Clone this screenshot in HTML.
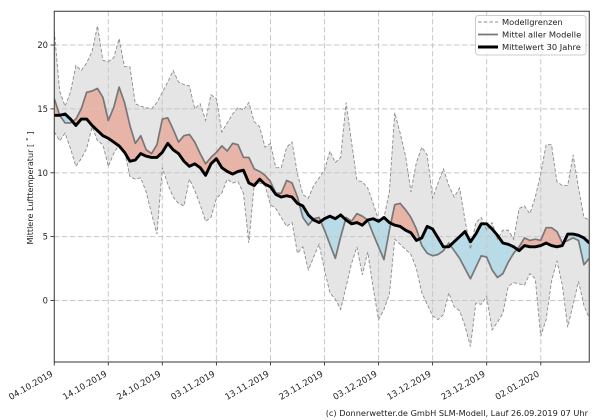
<!DOCTYPE html>
<html><head><meta charset="utf-8"><style>
html,body{margin:0;padding:0;background:#fff;}
svg{display:block;}
text{font-family:"DejaVu Sans","Liberation Sans",sans-serif;fill:#222;}
</style></head><body>
<svg width="600" height="420" viewBox="0 0 600 420" xmlns="http://www.w3.org/2000/svg">
<defs>
<clipPath id="plot"><rect x="54" y="11" width="535.5" height="351"/></clipPath>
<clipPath id="aboveL" clipPathUnits="userSpaceOnUse"><polygon points="0,13.2 1,12.5 2,13.1 3,11.9 4,10.5 5,11.1 6,11.9 7,13.6 8,12.5 9,12.2 10,10.5 11,11.5 12,12.2 13,11.7 14,9.7 15,9.5 16,9.6 17,8.5 18,6.8 19,5.2 20,10.4 21,9.1 22,8.1 23,7.6 24,7.4 25,9.5 26,8.6 27,7.5 28,6.2 29,6.5 30,8.0 31,8.4 32,9.5 33,9.2 34,9.3 35,8.4 36,4.5 37,9.1 38,9.2 39,9.0 40,7.5 41,7.2 42,6.5 43,5.8 44,6.1 45,3.7 46,4.2 47,2.4 48,3.4 49,4.4 50,2.4 51,0.6 52,0.1 53,-0.7 54,1.1 55,2.9 56,4.2 57,2.0 58,3.8 59,1.0 60,-1.5 61,-0.7 62,0.5 63,4.8 64,4.4 65,4.0 66,3.6 67,2.5 68,0.6 69,-0.3 70,-1.2 71,-1.5 72,-1.1 73,0.6 74,-0.5 75,-0.8 76,-2.0 77,-3.6 78,-0.2 79,-0.3 80,0.3 81,-2.3 82,-1.7 83,-1.0 84,1.1 85,1.4 86,1.3 87,1.2 88,2.1 89,1.7 90,-2.8 91,-1.5 92,1.5 93,3.1 94,1.2 95,-2.1 96,-0.3 97,1.5 98,-0.4 99,-1.4 99,30 0,30"/></clipPath>
<clipPath id="aboveC" clipPathUnits="userSpaceOnUse"><polygon points="0,14.5 1,14.5 2,14.6 3,14.2 4,13.7 5,14.2 6,14.2 7,13.7 8,13.3 9,12.9 10,12.7 11,12.4 12,12.1 13,11.6 14,10.9 15,11.0 16,11.5 17,11.3 18,11.2 19,11.2 20,11.6 21,12.3 22,11.8 23,11.5 24,10.9 25,10.5 26,10.7 27,10.4 28,9.8 29,10.7 30,11.1 31,10.4 32,10.1 33,9.9 34,10.1 35,10.2 36,9.2 37,9.0 38,9.5 39,9.1 40,8.9 41,8.3 42,8.1 43,8.2 44,8.1 45,7.6 46,7.4 47,6.7 48,6.3 49,6.1 50,6.4 51,6.6 52,6.4 53,6.7 54,6.3 55,6.0 56,6.1 57,5.9 58,6.3 59,6.4 60,6.2 61,6.5 62,6.1 63,5.9 64,5.8 65,5.5 66,5.3 67,4.7 68,4.9 69,5.8 70,5.6 71,4.9 72,4.2 73,4.2 74,4.6 75,5.0 76,5.4 77,4.6 78,5.2 79,6.0 80,6.0 81,5.6 82,5.1 83,4.5 84,4.4 85,4.2 86,3.9 87,4.3 88,4.2 89,4.2 90,4.3 91,4.5 92,4.3 93,4.2 94,4.3 95,5.2 96,5.2 97,5.1 98,4.9 99,4.5 99,30 0,30"/></clipPath>
<clipPath id="belowC" clipPathUnits="userSpaceOnUse"><polygon points="0,14.5 1,14.5 2,14.6 3,14.2 4,13.7 5,14.2 6,14.2 7,13.7 8,13.3 9,12.9 10,12.7 11,12.4 12,12.1 13,11.6 14,10.9 15,11.0 16,11.5 17,11.3 18,11.2 19,11.2 20,11.6 21,12.3 22,11.8 23,11.5 24,10.9 25,10.5 26,10.7 27,10.4 28,9.8 29,10.7 30,11.1 31,10.4 32,10.1 33,9.9 34,10.1 35,10.2 36,9.2 37,9.0 38,9.5 39,9.1 40,8.9 41,8.3 42,8.1 43,8.2 44,8.1 45,7.6 46,7.4 47,6.7 48,6.3 49,6.1 50,6.4 51,6.6 52,6.4 53,6.7 54,6.3 55,6.0 56,6.1 57,5.9 58,6.3 59,6.4 60,6.2 61,6.5 62,6.1 63,5.9 64,5.8 65,5.5 66,5.3 67,4.7 68,4.9 69,5.8 70,5.6 71,4.9 72,4.2 73,4.2 74,4.6 75,5.0 76,5.4 77,4.6 78,5.2 79,6.0 80,6.0 81,5.6 82,5.1 83,4.5 84,4.4 85,4.2 86,3.9 87,4.3 88,4.2 89,4.2 90,4.3 91,4.5 92,4.3 93,4.2 94,4.3 95,5.2 96,5.2 97,5.1 98,4.9 99,4.5 99,-10 0,-10"/></clipPath>
</defs>

<rect x="0" y="0" width="600" height="420" fill="#fff"/>

<g clip-path="url(#plot)">
<g transform="translate(54.25,300.5) scale(5.405,-12.775)">
  <polygon clip-path="url(#aboveL)" fill="#e5e5e5" points="0,21.1 1,16.4 2,15.2 3,16.3 4,18.4 5,18.0 6,18.6 7,19.5 8,21.5 9,18.8 10,18.7 11,19.0 12,20.5 13,18.3 14,18.3 15,15.4 16,15.2 17,15.1 18,15.0 19,15.5 20,16.3 21,17.1 22,18.0 23,17.1 24,16.9 25,16.8 26,15.0 27,15.4 28,14.1 29,16.1 30,15.8 31,13.2 32,13.9 33,14.6 34,15.1 35,14.9 36,15.5 37,14.0 38,13.6 39,12.0 40,12.3 41,10.4 42,10.4 43,12.0 44,12.4 45,9.9 46,8.3 47,8.0 48,9.0 49,9.6 50,10.2 51,11.7 52,10.8 53,11.2 54,15.5 55,12.4 56,9.4 57,9.3 58,8.8 59,7.6 60,6.3 61,6.5 62,8.5 63,14.7 64,13.1 65,11.3 66,8.5 67,10.8 68,12.0 69,11.4 70,8.0 71,9.2 72,10.3 73,9.0 74,8.1 75,8.8 76,6.3 77,4.0 78,6.1 79,6.5 80,5.5 81,6.1 82,4.8 83,5.5 84,5.5 85,4.8 86,7.2 87,7.4 88,6.8 89,8.1 90,9.9 91,12.2 92,12.2 93,9.3 94,9.0 95,9.0 96,11.4 97,8.8 98,6.5 99,6.3 99,-10 0,-10"/>
  <polygon clip-path="url(#aboveC)" fill="#e9b4a8" points="0,15.8 1,14.5 2,13.9 3,13.9 4,14.2 5,15.0 6,16.3 7,16.4 8,16.6 9,15.9 10,14.1 11,15.1 12,16.7 13,15.5 14,13.7 15,12.3 16,12.9 17,11.8 18,11.5 19,12.2 20,14.2 21,14.3 22,13.4 23,12.4 24,12.9 25,13.0 26,12.4 27,11.5 28,10.7 29,11.2 30,11.6 31,12.1 32,11.7 33,12.3 34,12.2 35,11.2 36,11.2 37,10.3 38,10.1 39,9.8 40,9.3 41,8.4 42,8.4 43,9.4 44,9.2 45,8.1 46,6.5 47,5.9 48,6.4 49,6.5 50,5.5 51,4.4 52,3.3 53,5.0 54,6.5 55,6.2 56,6.8 57,6.6 58,6.3 59,5.2 60,4.2 61,3.2 62,5.5 63,7.5 64,7.6 65,7.1 66,6.5 67,5.6 68,4.3 69,3.7 70,3.5 71,3.6 72,3.9 73,4.5 74,3.9 75,3.3 76,2.5 77,1.7 78,2.6 79,3.5 80,3.4 81,2.4 82,1.8 83,2.1 84,3.0 85,3.7 86,4.2 87,4.9 88,4.7 89,4.8 90,4.7 91,5.7 92,5.7 93,5.4 94,4.5 95,4.7 96,4.9 97,4.7 98,2.8 99,3.3 99,-10 0,-10"/>
  <polygon clip-path="url(#belowC)" fill="#b9dbe8" points="0,15.8 1,14.5 2,13.9 3,13.9 4,14.2 5,15.0 6,16.3 7,16.4 8,16.6 9,15.9 10,14.1 11,15.1 12,16.7 13,15.5 14,13.7 15,12.3 16,12.9 17,11.8 18,11.5 19,12.2 20,14.2 21,14.3 22,13.4 23,12.4 24,12.9 25,13.0 26,12.4 27,11.5 28,10.7 29,11.2 30,11.6 31,12.1 32,11.7 33,12.3 34,12.2 35,11.2 36,11.2 37,10.3 38,10.1 39,9.8 40,9.3 41,8.4 42,8.4 43,9.4 44,9.2 45,8.1 46,6.5 47,5.9 48,6.4 49,6.5 50,5.5 51,4.4 52,3.3 53,5.0 54,6.5 55,6.2 56,6.8 57,6.6 58,6.3 59,5.2 60,4.2 61,3.2 62,5.5 63,7.5 64,7.6 65,7.1 66,6.5 67,5.6 68,4.3 69,3.7 70,3.5 71,3.6 72,3.9 73,4.5 74,3.9 75,3.3 76,2.5 77,1.7 78,2.6 79,3.5 80,3.4 81,2.4 82,1.8 83,2.1 84,3.0 85,3.7 86,4.2 87,4.9 88,4.7 89,4.8 90,4.7 91,5.7 92,5.7 93,5.4 94,4.5 95,4.7 96,4.9 97,4.7 98,2.8 99,3.3 99,30 0,30"/>
</g>

<g stroke="#c8c8c8" stroke-width="1" stroke-dasharray="5.5,2.5" fill="none">
  <line x1="108.3" y1="11" x2="108.3" y2="362"/>
  <line x1="162.3" y1="11" x2="162.3" y2="362"/>
  <line x1="216.4" y1="11" x2="216.4" y2="362"/>
  <line x1="270.5" y1="11" x2="270.5" y2="362"/>
  <line x1="324.5" y1="11" x2="324.5" y2="362"/>
  <line x1="378.6" y1="11" x2="378.6" y2="362"/>
  <line x1="432.6" y1="11" x2="432.6" y2="362"/>
  <line x1="486.7" y1="11" x2="486.7" y2="362"/>
  <line x1="540.8" y1="11" x2="540.8" y2="362"/>
  <line x1="54" y1="300.5" x2="589.5" y2="300.5"/>
  <line x1="54" y1="236.6" x2="589.5" y2="236.6"/>
  <line x1="54" y1="172.75" x2="589.5" y2="172.75"/>
  <line x1="54" y1="108.9" x2="589.5" y2="108.9"/>
  <line x1="54" y1="45" x2="589.5" y2="45"/>
</g>

<g transform="translate(54.25,300.5) scale(5.405,-12.775)" fill="none">
  <polyline vector-effect="non-scaling-stroke" stroke="#8c8c8c" stroke-width="0.9" stroke-dasharray="3.5,2" points="0,21.1 1,16.4 2,15.2 3,16.3 4,18.4 5,18.0 6,18.6 7,19.5 8,21.5 9,18.8 10,18.7 11,19.0 12,20.5 13,18.3 14,18.3 15,15.4 16,15.2 17,15.1 18,15.0 19,15.5 20,16.3 21,17.1 22,18.0 23,17.1 24,16.9 25,16.8 26,15.0 27,15.4 28,14.1 29,16.1 30,15.8 31,13.2 32,13.9 33,14.6 34,15.1 35,14.9 36,15.5 37,14.0 38,13.6 39,12.0 40,12.3 41,10.4 42,10.4 43,12.0 44,12.4 45,9.9 46,8.3 47,8.0 48,9.0 49,9.6 50,10.2 51,11.7 52,10.8 53,11.2 54,15.5 55,12.4 56,9.4 57,9.3 58,8.8 59,7.6 60,6.3 61,6.5 62,8.5 63,14.7 64,13.1 65,11.3 66,8.5 67,10.8 68,12.0 69,11.4 70,8.0 71,9.2 72,10.3 73,9.0 74,8.1 75,8.8 76,6.3 77,4.0 78,6.1 79,6.5 80,5.5 81,6.1 82,4.8 83,5.5 84,5.5 85,4.8 86,7.2 87,7.4 88,6.8 89,8.1 90,9.9 91,12.2 92,12.2 93,9.3 94,9.0 95,9.0 96,11.4 97,8.8 98,6.5 99,6.3"/>
  <polyline vector-effect="non-scaling-stroke" stroke="#8c8c8c" stroke-width="0.9" stroke-dasharray="3.5,2" points="0,13.2 1,12.5 2,13.1 3,11.9 4,10.5 5,11.1 6,11.9 7,13.6 8,12.5 9,12.2 10,10.5 11,11.5 12,12.2 13,11.7 14,9.7 15,9.5 16,9.6 17,8.5 18,6.8 19,5.2 20,10.4 21,9.1 22,8.1 23,7.6 24,7.4 25,9.5 26,8.6 27,7.5 28,6.2 29,6.5 30,8.0 31,8.4 32,9.5 33,9.2 34,9.3 35,8.4 36,4.5 37,9.1 38,9.2 39,9.0 40,7.5 41,7.2 42,6.5 43,5.8 44,6.1 45,3.7 46,4.2 47,2.4 48,3.4 49,4.4 50,2.4 51,0.6 52,0.1 53,-0.7 54,1.1 55,2.9 56,4.2 57,2.0 58,3.8 59,1.0 60,-1.5 61,-0.7 62,0.5 63,4.8 64,4.4 65,4.0 66,3.6 67,2.5 68,0.6 69,-0.3 70,-1.2 71,-1.5 72,-1.1 73,0.6 74,-0.5 75,-0.8 76,-2.0 77,-3.6 78,-0.2 79,-0.3 80,0.3 81,-2.3 82,-1.7 83,-1.0 84,1.1 85,1.4 86,1.3 87,1.2 88,2.1 89,1.7 90,-2.8 91,-1.5 92,1.5 93,3.1 94,1.2 95,-2.1 96,-0.3 97,1.5 98,-0.4 99,-1.4"/>
  <polyline vector-effect="non-scaling-stroke" stroke="#777777" stroke-width="1.7" stroke-linejoin="round" points="0,15.8 1,14.5 2,13.9 3,13.9 4,14.2 5,15.0 6,16.3 7,16.4 8,16.6 9,15.9 10,14.1 11,15.1 12,16.7 13,15.5 14,13.7 15,12.3 16,12.9 17,11.8 18,11.5 19,12.2 20,14.2 21,14.3 22,13.4 23,12.4 24,12.9 25,13.0 26,12.4 27,11.5 28,10.7 29,11.2 30,11.6 31,12.1 32,11.7 33,12.3 34,12.2 35,11.2 36,11.2 37,10.3 38,10.1 39,9.8 40,9.3 41,8.4 42,8.4 43,9.4 44,9.2 45,8.1 46,6.5 47,5.9 48,6.4 49,6.5 50,5.5 51,4.4 52,3.3 53,5.0 54,6.5 55,6.2 56,6.8 57,6.6 58,6.3 59,5.2 60,4.2 61,3.2 62,5.5 63,7.5 64,7.6 65,7.1 66,6.5 67,5.6 68,4.3 69,3.7 70,3.5 71,3.6 72,3.9 73,4.5 74,3.9 75,3.3 76,2.5 77,1.7 78,2.6 79,3.5 80,3.4 81,2.4 82,1.8 83,2.1 84,3.0 85,3.7 86,4.2 87,4.9 88,4.7 89,4.8 90,4.7 91,5.7 92,5.7 93,5.4 94,4.5 95,4.7 96,4.9 97,4.7 98,2.8 99,3.3"/>
  <polyline vector-effect="non-scaling-stroke" stroke="#000" stroke-width="2.9" stroke-linejoin="round" points="0,14.5 1,14.5 2,14.6 3,14.2 4,13.7 5,14.2 6,14.2 7,13.7 8,13.3 9,12.9 10,12.7 11,12.4 12,12.1 13,11.6 14,10.9 15,11.0 16,11.5 17,11.3 18,11.2 19,11.2 20,11.6 21,12.3 22,11.8 23,11.5 24,10.9 25,10.5 26,10.7 27,10.4 28,9.8 29,10.7 30,11.1 31,10.4 32,10.1 33,9.9 34,10.1 35,10.2 36,9.2 37,9.0 38,9.5 39,9.1 40,8.9 41,8.3 42,8.1 43,8.2 44,8.1 45,7.6 46,7.4 47,6.7 48,6.3 49,6.1 50,6.4 51,6.6 52,6.4 53,6.7 54,6.3 55,6.0 56,6.1 57,5.9 58,6.3 59,6.4 60,6.2 61,6.5 62,6.1 63,5.9 64,5.8 65,5.5 66,5.3 67,4.7 68,4.9 69,5.8 70,5.6 71,4.9 72,4.2 73,4.2 74,4.6 75,5.0 76,5.4 77,4.6 78,5.2 79,6.0 80,6.0 81,5.6 82,5.1 83,4.5 84,4.4 85,4.2 86,3.9 87,4.3 88,4.2 89,4.2 90,4.3 91,4.5 92,4.3 93,4.2 94,4.3 95,5.2 96,5.2 97,5.1 98,4.9 99,4.5"/>
</g>
</g>

<rect x="54.25" y="11.25" width="535" height="350.75" fill="none" stroke="#333" stroke-width="1"/>

<g stroke="#333" stroke-width="0.9">
  <line x1="50.5" y1="300.5" x2="54" y2="300.5"/>
  <line x1="50.5" y1="236.6" x2="54" y2="236.6"/>
  <line x1="50.5" y1="172.75" x2="54" y2="172.75"/>
  <line x1="50.5" y1="108.9" x2="54" y2="108.9"/>
  <line x1="50.5" y1="45" x2="54" y2="45"/>
  <line x1="54.25" y1="362" x2="54.25" y2="365.5"/>
  <line x1="108.3" y1="362" x2="108.3" y2="365.5"/>
  <line x1="162.3" y1="362" x2="162.3" y2="365.5"/>
  <line x1="216.4" y1="362" x2="216.4" y2="365.5"/>
  <line x1="270.5" y1="362" x2="270.5" y2="365.5"/>
  <line x1="324.5" y1="362" x2="324.5" y2="365.5"/>
  <line x1="378.6" y1="362" x2="378.6" y2="365.5"/>
  <line x1="432.6" y1="362" x2="432.6" y2="365.5"/>
  <line x1="486.7" y1="362" x2="486.7" y2="365.5"/>
  <line x1="540.8" y1="362" x2="540.8" y2="365.5"/>
</g>
<g font-size="8.4" text-anchor="end">
  <text x="48" y="303.6">0</text>
  <text x="48" y="239.7">5</text>
  <text x="48" y="175.9">10</text>
  <text x="48" y="112">15</text>
  <text x="48" y="48.1">20</text>
</g>

<text transform="translate(33,188) rotate(-90)" font-size="8.1" text-anchor="middle">Mittlere Lufttemperatur [ ˚ ]</text>

<g font-size="8.6" text-anchor="end">
  <text transform="translate(53.5,375.5) rotate(-30)">04.10.2019</text>
  <text transform="translate(107.5,375.5) rotate(-30)">14.10.2019</text>
  <text transform="translate(161.5,375.5) rotate(-30)">24.10.2019</text>
  <text transform="translate(215.6,375.5) rotate(-30)">03.11.2019</text>
  <text transform="translate(269.7,375.5) rotate(-30)">13.11.2019</text>
  <text transform="translate(323.7,375.5) rotate(-30)">23.11.2019</text>
  <text transform="translate(377.8,375.5) rotate(-30)">03.12.2019</text>
  <text transform="translate(431.8,375.5) rotate(-30)">13.12.2019</text>
  <text transform="translate(485.9,375.5) rotate(-30)">23.12.2019</text>
  <text transform="translate(540,375.5) rotate(-30)">02.01.2020</text>
</g>

<rect x="475.5" y="15.5" width="110.5" height="39.5" rx="3" ry="3" fill="#fff" fill-opacity="0.85" stroke="#cccccc" stroke-width="1"/>
<line x1="478" y1="22" x2="498" y2="22" stroke="#8c8c8c" stroke-width="1" stroke-dasharray="3.5,2.2"/>
<line x1="478" y1="34.5" x2="498" y2="34.5" stroke="#777" stroke-width="1.7"/>
<line x1="478" y1="47" x2="498" y2="47" stroke="#000" stroke-width="3"/>
<g font-size="8.3">
  <text x="502" y="25.2">Modellgrenzen</text>
  <text x="502" y="37.7">Mittel aller Modelle</text>
  <text x="502" y="50.2">Mittelwert 30 Jahre</text>
</g>

<text x="588" y="416" font-size="8.2" text-anchor="end">(c) Donnerwetter.de GmbH SLM-Modell, Lauf 26.09.2019 07 Uhr</text>
</svg>
</body></html>
